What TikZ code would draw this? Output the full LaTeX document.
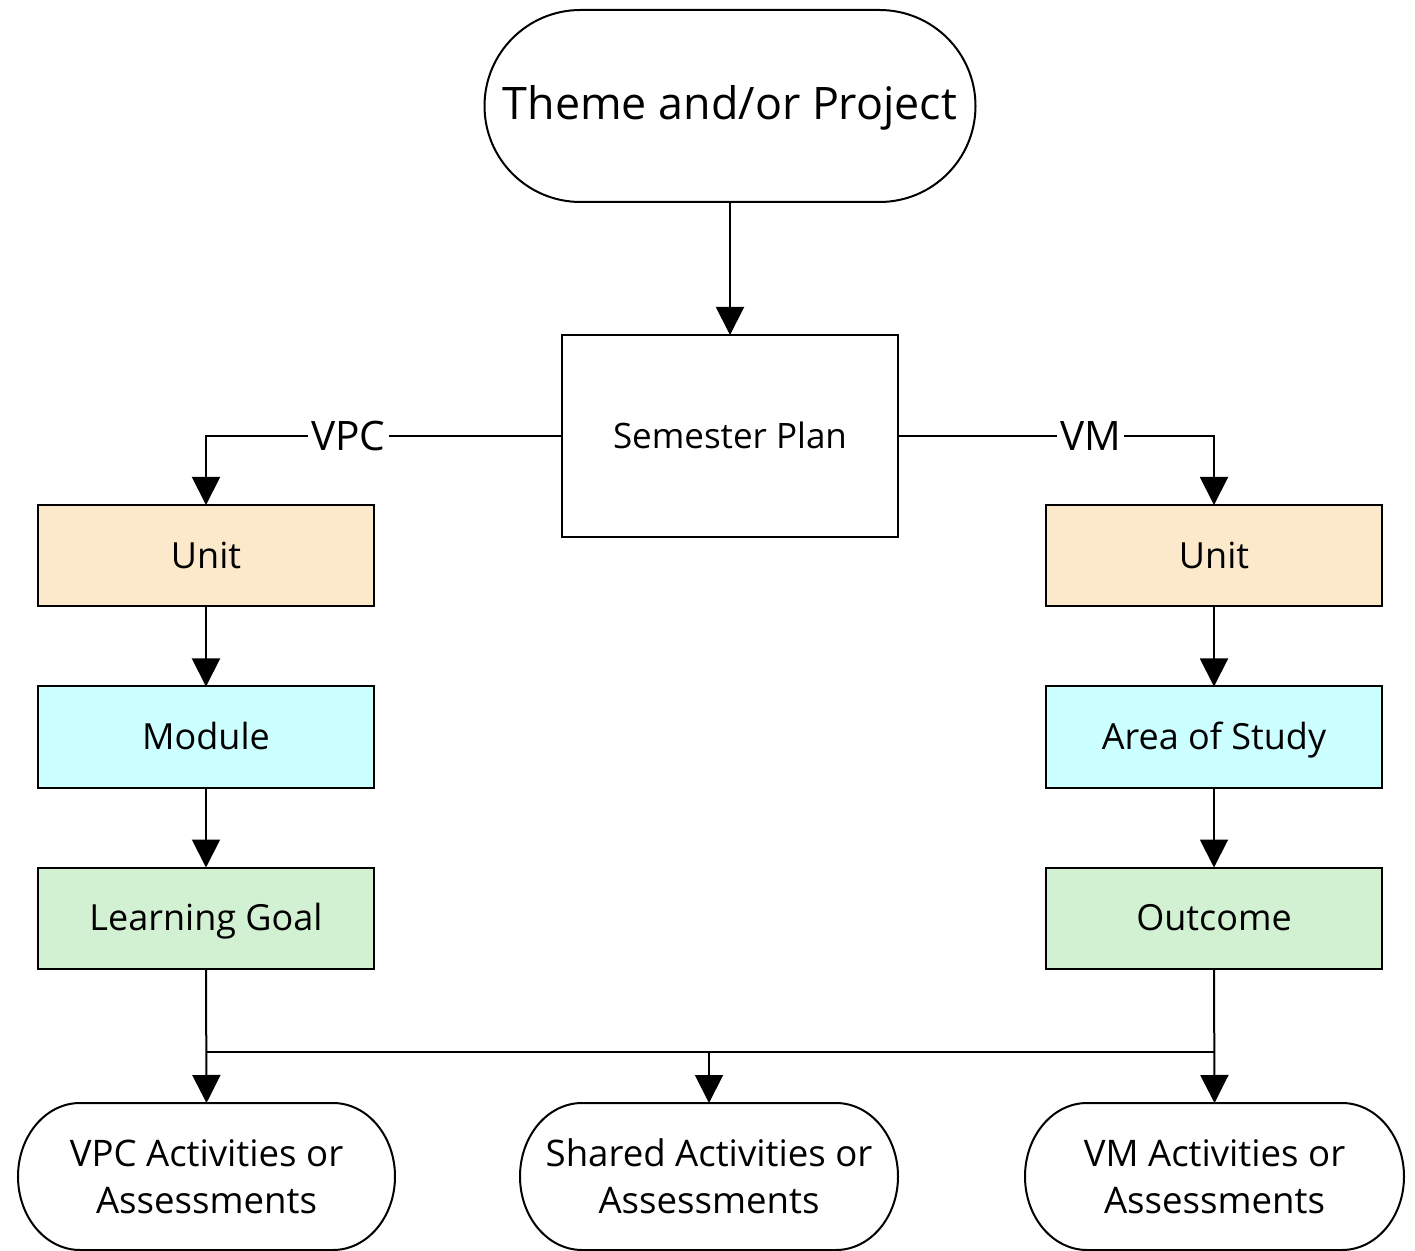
\documentclass[tikz,border=0pt]{standalone}
\usepackage{fontspec}
\setmainfont{Open Sans}
\usetikzlibrary{arrows.meta}
\definecolor{unitfill}{HTML}{FCE9CB}
\definecolor{modfill}{HTML}{CCFFFF}
\definecolor{goalfill}{HTML}{D2F0D2}
% stadium outline: centre x, centre y (downwards), width, height, end radius
\newcommand\stadiumpath[5]{%
  \draw[fill=white] ({#1-#3/2+#5},{-(#2-#4/2)}) -- ({#1+#3/2-#5},{-(#2-#4/2)})
    arc[start angle=90,end angle=-90,x radius=#5,y radius=#4/2]
    -- ({#1-#3/2+#5},{-(#2+#4/2)})
    arc[start angle=270,end angle=90,x radius=#5,y radius=#4/2] -- cycle;}
\begin{document}
\begin{tikzpicture}[x=0.5pt,y=0.5pt,line width=1pt,
  box/.style={draw,rectangle,inner sep=0pt,outer sep=0pt,
    minimum width=168pt,minimum height=50.5pt,
    text height=12.9pt,text depth=0pt,font=\fontsize{18}{22}\selectfont},
  term/.style={inner sep=0pt,outer sep=0pt,align=center,
    font=\fontsize{18.3}{23.5}\selectfont},
  lbl/.style={fill=white,inner xsep=1.5pt,inner ysep=0pt,
    text height=14.6pt,text depth=0pt,font=\fontsize{20.3}{24}\selectfont},
  arr/.style={-{Triangle[width=14pt,length=14pt]}}]
\useasboundingbox (0,0) rectangle (1415,-1251);

% top terminator
\stadiumpath{730}{106}{491}{192}{96}
\node[inner sep=0pt,outer sep=0pt,minimum width=245.5pt,minimum height=96pt]
  (theme) at (730,-106) {};
\node[inner sep=0pt,text height=16pt,text depth=0pt,
  font=\fontsize{22.4}{26}\selectfont] (themetext) at (730,-104) {Theme and/or Project};

\node[box,minimum height=101pt,font=\fontsize{17.5}{21}\selectfont,text height=12.5pt]
  (sem) at (730,-436) {Semester Plan};

% VPC branch
\node[box,fill=unitfill] (unitL) at (206,-555.5) {Unit};
\node[box,fill=modfill] (modL) at (206,-737) {Module};
\node[box,fill=goalfill] (goalL) at (206,-918) {Learning Goal};

% VM branch
\node[box,fill=unitfill] (unitR) at (1214,-555.5) {Unit};
\node[box,fill=modfill] (modR) at (1214,-737) {Area of Study};
\node[box,fill=goalfill] (outR) at (1214,-918) {Outcome};

% bottom terminators
\stadiumpath{206.5}{1176.5}{377}{147}{62}
\node[term,minimum width=188.5pt,minimum height=73.5pt] (vpcA) at (206.5,-1176.5)
  {VPC Activities or\\Assessments};
\stadiumpath{709}{1176.5}{378}{147}{62}
\node[term,minimum width=189pt,minimum height=73.5pt] (shA) at (709,-1176.5)
  {Shared Activities or\\Assessments};
\stadiumpath{1214.5}{1176.5}{379}{147}{62}
\node[term,minimum width=189.5pt,minimum height=73.5pt] (vmA) at (1214.5,-1176.5)
  {VM Activities or\\Assessments};

% connectors
\draw[arr] (theme.south) -- (sem.north);
\draw[arr] (sem.west) -| (unitL.north) node[lbl,pos=0.3] (vpc) {VPC};
\draw[arr] (sem.east) -| (unitR.north) node[lbl,pos=0.305] (vm) {VM};
\draw[arr] (unitL) -- (modL);
\draw[arr] (modL) -- (goalL);
\draw[arr] (unitR) -- (modR);
\draw[arr] (modR) -- (outR);
\draw[arr] (goalL.south) -- (vpcA.north);
\draw[arr] (outR.south) -- (vmA.north);
\coordinate (jl) at (206,-1052);
\coordinate (jr) at (1214,-1052);
\draw (jl) -- (jr);
\draw[arr] (jl -| shA.north) -- (shA.north);
\end{tikzpicture}
\end{document}
